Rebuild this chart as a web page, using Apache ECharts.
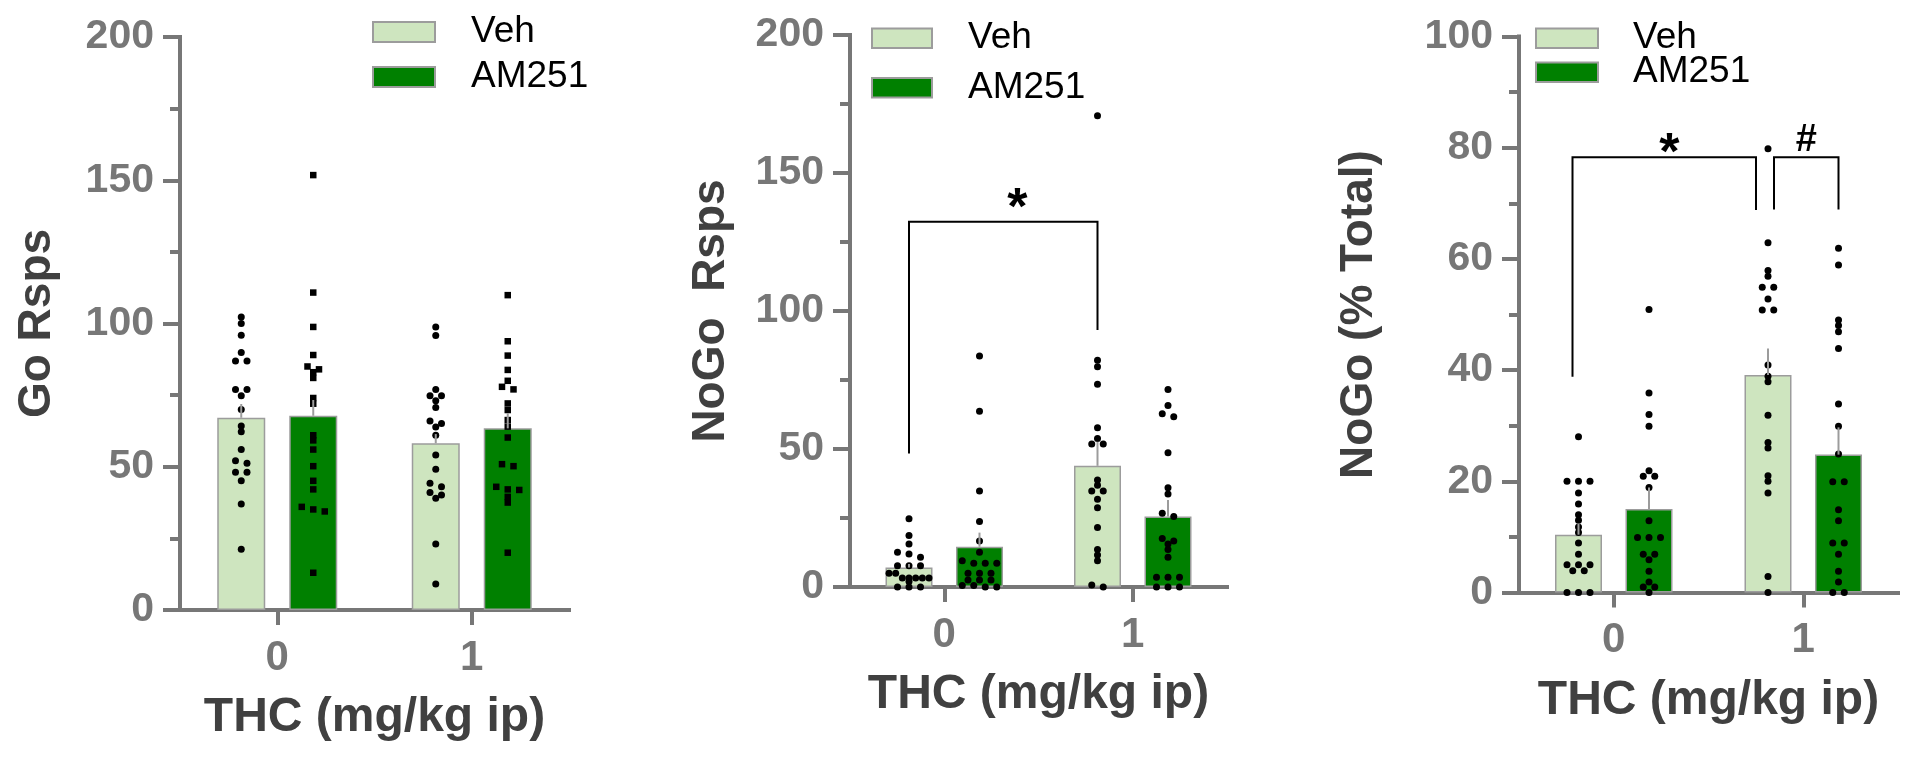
<!DOCTYPE html>
<html><head><meta charset="utf-8">
<script src="https://cdn.jsdelivr.net/npm/echarts@6/dist/echarts.min.js"></script>
<style>html,body{margin:0;padding:0;background:#fff}#c{width:1920px;height:760px}</style>
</head><body><div id="c"></div>
<script>
// ---------- DATA ----------
const categories = ['0', '1'];
const groupNames = ['Veh', 'AM251'];

// Panel 1: Go Rsps
const goTicks = [0, 50, 100, 150, 200];
const goVehMean = [67.1, 58.2];
const goAmMean = [67.8, 63.4];
const goVehSem = [4.8, 3.2];
const goAmSem = [5.5, 5.3];
const goVeh0 = [102.3, 100.0, 95.9, 89.9, 86.9, 86.9, 77.0, 77.0, 74.8, 70.0, 64.2, 62.2, 56.0, 52.1, 51.2, 48.1, 48.1, 45.1, 37.0, 21.2];
const goAm0 = [151.8, 110.8, 98.8, 89.0, 85.0, 84.0, 83.0, 81.0, 74.0, 72.0, 61.0, 59.2, 56.0, 50.2, 45.1, 42.1, 36.0, 35.1, 34.4, 13.0];
const goVeh1 = [98.8, 95.8, 77.0, 74.8, 74.8, 73.0, 70.7, 66.0, 65.1, 63.9, 61.0, 54.1, 49.1, 44.2, 43.0, 41.0, 40.1, 39.0, 23.0, 9.1];
const goAm1 = [109.9, 93.8, 88.8, 83.8, 80.0, 77.9, 77.0, 72.1, 69.8, 66.3, 64.0, 60.2, 50.9, 50.2, 43.0, 42.1, 41.9, 39.5, 37.5, 20.0];

// Panel 2: NoGo Rsps
const nogoTicks = [0, 50, 100, 150, 200];
const nogoVehMean = [7.1, 43.9];
const nogoAmMean = [14.6, 25.5];
const nogoVehSem = [1.2, 8.7];
const nogoAmSem = [5.1, 6.0];
const nogoVeh0 = [24.7, 18.7, 15.6, 12.6, 12.0, 10.8, 7.7, 7.7, 7.7, 5.0, 5.0, 3.3, 3.3, 3.3, 3.3, 3.3, 2.0, 0, 0, 0];
const nogoAm0 = [83.7, 63.7, 34.8, 23.7, 16.7, 12.6, 9.5, 8.6, 8.6, 8.6, 5.0, 5.0, 5.0, 2.5, 2.5, 2.5, 0.5, 0.5, 0, 0];
const nogoVeh1 = [170.7, 82.2, 79.8, 73.5, 57.7, 53.8, 51.8, 51.8, 38.8, 36.9, 34.8, 34.8, 31.8, 28.7, 21.6, 13.6, 11.6, 9.5, 0.7, 0];
const nogoAm1 = [71.6, 65.8, 62.8, 61.7, 48.6, 36.0, 33.7, 26.7, 25.5, 17.6, 16.7, 15.6, 13.6, 10.8, 3.5, 3.5, 3.5, 0, 0, 0];

// Panel 3: NoGo (% Total)
const pctTicks = [0, 20, 40, 60, 80, 100];
const pctVehMean = [10.4, 39.1];
const pctAmMean = [15.0, 24.8];
const pctVehSem = [2.0, 4.8];
const pctAmSem = [3.9, 4.9];
const pctVeh0 = [28.0, 20.0, 20.0, 20.0, 17.9, 15.9, 14.0, 13.0, 11.8, 10.8, 8.9, 6.9, 5.0, 5.0, 5.0, 3.9, 3.9, 0, 0, 0];
const pctAm0 = [50.9, 35.9, 32.0, 29.9, 21.9, 20.9, 20.9, 18.9, 12.9, 9.9, 9.9, 9.9, 6.9, 6.9, 5.9, 3.8, 1.9, 1.0, 1.0, 0];
const pctVeh1 = [79.8, 62.9, 57.9, 56.9, 54.9, 54.9, 52.8, 50.8, 50.8, 40.9, 38.9, 37.9, 31.9, 27.0, 26.0, 21.0, 20.0, 17.9, 2.9, 0];
const pctAm1 = [61.9, 58.9, 49.0, 48.0, 46.9, 43.9, 33.9, 29.9, 24.9, 19.9, 19.9, 14.9, 12.9, 8.9, 8.9, 6.9, 3.8, 1.9, 0, 0];

// significance brackets: [catFrom, groupFrom, catTo, groupTo, yTop, yEndFrom, yEndTo, label]
const nogoBrackets = [[0, 0, 1, 0, 132.3, 48.4, 93.1, '*']];
const pctBrackets = [[0, 0, 1, 0, 78.3, 38.8, 68.8, '*'], [1, 0, 1, 1, 78.3, 68.9, 68.9, '#']];

// ---------- STYLE / LAYOUT ----------
const FONT = '"Liberation Sans", Arial, Helvetica, sans-serif';
const AX = '#777777', TITLE = '#404040';
const VEH_COLOR = '#cee5bf', AM_COLOR = '#008000', EDGE = '#9c9c9c';
const BAR_GAP = 0.5;
const LEG_FONT = 37;

const panels = [
  { grid: {left: 180, top: 37, width: 389, height: 573}, ticks: goTicks, yName: 'Go Rsps', yGap: 120, barW: 48,
    vehMean: goVehMean, amMean: goAmMean, vehSem: goVehSem, amSem: goAmSem,
    vehDots: [goVeh0, goVeh1], amDots: [goAm0, goAm1], amSymbol: 'rect', amSize: 6.5, brackets: [],
    legend: {left: 372, swatchTops: [22, 67], w: 62, h: 20, pad: 31},
    bracketText: [] },
  { grid: {left: 850, top: 35, width: 377, height: 552}, ticks: nogoTicks, yName: 'NoGo  Rsps', yGap: 116, barW: 47,
    vehMean: nogoVehMean, amMean: nogoAmMean, vehSem: nogoVehSem, amSem: nogoAmSem,
    vehDots: [nogoVeh0, nogoVeh1], amDots: [nogoAm0, nogoAm1], amSymbol: 'circle', amSize: 7, brackets: nogoBrackets,
    legend: {left: 871, swatchTops: [28.5, 78], w: 60, h: 19.5, pad: 31},
    bracketText: [{dx: 14, dy: -12, size: 52}], bracketShift: [[0, 0]] },
  { grid: {left: 1519, top: 36.5, width: 379, height: 556}, ticks: pctTicks, yName: 'NoGo (% Total)', yGap: 137, barW: 47,
    vehMean: pctVehMean, amMean: pctAmMean, vehSem: pctVehSem, amSem: pctAmSem,
    vehDots: [pctVeh0, pctVeh1], amDots: [pctAm0, pctAm1], amSymbol: 'circle', amSize: 7, brackets: pctBrackets,
    legend: {left: 1535, swatchTops: [28.5, 62.5], w: 62, h: 19.5, pad: 30},
    bracketText: [{dx: 5, dy: -2, size: 52}, {dx: 0, dy: -17, size: 38}], bracketShift: [[-6, -12], [6, 0]] }
];

// simple beeswarm: rows of near-equal values spread symmetrically
function swarm(vals, pxPerUnit, spacing, maxW, rowPx) {
  const sorted = vals.slice().sort((a, b) => b - a);
  const rows = []; let cur = null;
  sorted.forEach(v => {
    if (cur && (cur[0] - v) * pxPerUnit < rowPx) cur.push(v);
    else { cur = [v]; rows.push(cur); }
  });
  const out = [];
  rows.forEach(r => {
    const n = r.length;
    const s = n > 1 ? Math.min(spacing, maxW / (n - 1)) : 0;
    r.forEach((v, k) => out.push([(k - (n - 1) / 2) * s, v]));
  });
  return out;
}

const grids = [], xAxes = [], yAxes = [], series = [], legends = [];

panels.forEach((p, i) => {
  const g = p.grid;
  const tmin = p.ticks[0], tmax = p.ticks[p.ticks.length - 1], tint = p.ticks[1] - p.ticks[0];
  grids.push({left: g.left, top: g.top, width: g.width, height: g.height, containLabel: false});
  xAxes.push({
    type: 'category', gridIndex: i, data: categories, position: 'bottom',
    axisLine: {show: true, onZero: false, lineStyle: {color: AX, width: 4, cap: 'square'}},
    axisTick: {show: true, alignWithLabel: true, length: 15, lineStyle: {color: AX, width: 4}},
    axisLabel: {fontFamily: FONT, fontSize: 42, fontWeight: 'bold', color: AX, margin: 27},
    name: 'THC (mg/kg ip)', nameLocation: 'middle', nameGap: 84,
    nameTextStyle: {fontFamily: FONT, fontSize: 48, fontWeight: 'bold', color: TITLE},
    splitLine: {show: false}
  });
  xAxes.push({type: 'value', gridIndex: i, min: -0.5, max: 1.5, show: false, position: 'top',
    axisLine: {onZero: false}});
  yAxes.push({
    type: 'value', gridIndex: i, min: tmin, max: tmax, interval: tint, position: 'left',
    axisLine: {show: true, onZero: false, lineStyle: {color: AX, width: 4, cap: 'square'}},
    axisTick: {show: true, length: 17, lineStyle: {color: AX, width: 4}},
    minorTick: {show: true, splitNumber: 2, length: 10, lineStyle: {color: AX, width: 4}},
    axisLabel: {fontFamily: FONT, fontSize: 41, fontWeight: 'bold', color: AX, margin: 26},
    splitLine: {show: false},
    name: p.yName, nameLocation: 'middle', nameRotate: 90, nameGap: p.yGap,
    nameTextStyle: {fontFamily: FONT, fontSize: 46, fontWeight: 'bold', color: TITLE}
  });
  const catX = 2 * i, valX = 2 * i + 1;
  const band = g.width / categories.length;
  const gOff = p.barW * (1 + BAR_GAP) / 2;
  const pxPerUnit = g.height / (tmax - tmin);

  // bars
  series.push({type: 'bar', name: groupNames[0], xAxisIndex: catX, yAxisIndex: i, data: p.vehMean,
    barWidth: p.barW, barGap: (BAR_GAP * 100) + '%', z: 2,
    itemStyle: {color: VEH_COLOR, borderColor: EDGE, borderWidth: 1.5}});
  series.push({type: 'bar', name: groupNames[1], xAxisIndex: catX, yAxisIndex: i, data: p.amMean,
    barWidth: p.barW, barGap: (BAR_GAP * 100) + '%', z: 2,
    itemStyle: {color: AM_COLOR, borderColor: EDGE, borderWidth: 1.5}});

  // dots
  const groupDots = [p.vehDots, p.amDots];
  groupDots.forEach((dotsByCat, gi) => {
    const sign = gi === 0 ? -1 : 1;
    const pts = [];
    dotsByCat.forEach((vals, c) => {
      swarm(vals, pxPerUnit, 11.5, 40, 5).forEach(([dx, v]) => {
        pts.push([c + (sign * gOff + dx) / band, v]);
      });
    });
    series.push({type: 'scatter', name: groupNames[gi] + ' points', xAxisIndex: valX, yAxisIndex: i,
      data: pts, symbol: gi === 1 ? p.amSymbol : 'circle', symbolSize: gi === 1 ? p.amSize : 7,
      itemStyle: {color: '#000', opacity: 1}, z: 3, silent: true});
  });

  // error bars (SEM, upward)
  const errData = [];
  [[p.vehMean, p.vehSem, -1], [p.amMean, p.amSem, 1]].forEach(([m, s, sign]) => {
    m.forEach((mv, c) => errData.push([c + sign * gOff / band, mv, mv + s[c]]));
  });
  series.push({type: 'custom', name: 'sem', xAxisIndex: valX, yAxisIndex: i, data: errData, z: 4, silent: true,
    renderItem: (params, api) => {
      const a = api.coord([api.value(0), api.value(1)]);
      const b = api.coord([api.value(0), api.value(2)]);
      return {type: 'line', shape: {x1: a[0], y1: a[1], x2: b[0], y2: b[1]},
        style: {stroke: EDGE, lineWidth: 2}};
    }});

  // brackets
  if (p.brackets.length) {
    series.push({type: 'custom', name: 'brackets', xAxisIndex: valX, yAxisIndex: i, z: 5, silent: true,
      data: p.brackets.map(b => [b[0], b[4]]),
      renderItem: (params, api) => {
        const b = p.brackets[params.dataIndex];
        const sh = p.bracketShift[params.dataIndex];
        const tx = p.bracketText[params.dataIndex];
        const x1 = b[0] + ((b[1] === 0 ? -1 : 1) * gOff + sh[0]) / band;
        const x2 = b[2] + ((b[3] === 0 ? -1 : 1) * gOff + sh[1]) / band;
        const top1 = api.coord([x1, b[4]]), top2 = api.coord([x2, b[4]]);
        const e1 = api.coord([x1, b[5]]), e2 = api.coord([x2, b[6]]);
        return {type: 'group', children: [
          {type: 'polyline', shape: {points: [[e1[0], e1[1]], [top1[0], top1[1]], [top2[0], top2[1]], [e2[0], e2[1]]]},
            style: {stroke: '#000', lineWidth: 2, fill: null}},
          {type: 'text', x: (top1[0] + top2[0]) / 2 + tx.dx, y: top1[1] + tx.dy,
            style: {text: b[7], fill: '#000', font: 'bold ' + tx.size + 'px ' + FONT, align: 'center', verticalAlign: 'middle'}}
        ]};
      }});
  }

  // legend: one component per entry so each swatch sits at its own measured top
  const L = p.legend;
  const itemH = LEG_FONT;
  groupNames.forEach((name, k) => {
    legends.push({orient: 'vertical', left: L.left, top: L.swatchTops[k] - (itemH - L.h) / 2, padding: 0,
      itemWidth: L.w, itemHeight: L.h, icon: 'rect', data: [name], selectedMode: false,
      textStyle: {fontFamily: FONT, fontSize: LEG_FONT, color: '#000', padding: [0, 0, 0, L.pad]}});
  });
});

const chart = echarts.init(document.getElementById('c'), null, {renderer: 'canvas'});
chart.setOption({
  animation: false, backgroundColor: '#ffffff',
  grid: grids, xAxis: xAxes, yAxis: yAxes, legend: legends, series: series
});
</script></body></html>
